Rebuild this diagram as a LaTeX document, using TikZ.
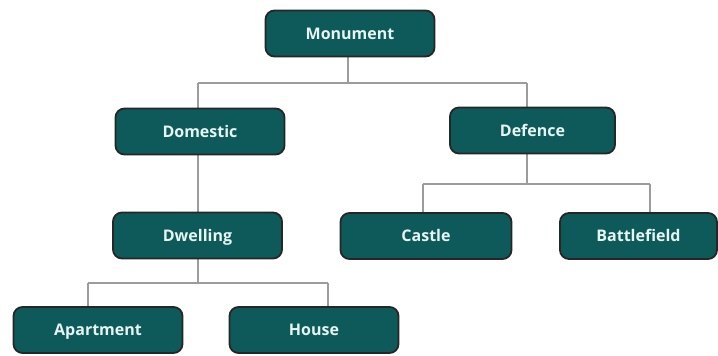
\documentclass[tikz,border=0pt]{standalone}
\usepackage{fontspec}
\setmainfont{Open Sans}
\begin{document}
\begin{tikzpicture}[x=1pt,y=-1pt,
  box/.style={draw=black!85, line width=1.8pt, fill=boxfill, rounded corners=9pt,
    minimum width=169pt, minimum height=46pt, inner sep=0pt,
    text height=11.5pt, text depth=0pt,
    text=boxtext, font=\bfseries\fontsize{16}{18}\selectfont},
  link/.style={draw=linegray, line width=1.3pt}]
\definecolor{boxfill}{HTML}{0E5A5A}
\definecolor{boxtext}{HTML}{E6F4F2}
\definecolor{linegray}{HTML}{9C9C9C}
\useasboundingbox (0,0) rectangle (718,356);
\fill[white] (0,0) rectangle (718,356);

% bus lines and drop points
\coordinate (j0) at (348,83);
\coordinate (bL) at (198,83);
\coordinate (bR) at (527,83);
\coordinate (dL) at (423,184);
\coordinate (dR) at (650,184);
\coordinate (hL) at (88,283);
\coordinate (hR) at (328,283);

% connectors (drawn first so boxes cover them)
\draw[link] (bL) -- (bR);
\draw[link] (j0) -- (348,50);
\draw[link] (bL) -- (bL |- 0,120);
\draw[link] (bR) -- (bR |- 0,120);
\draw[link] (bL |- 0,140) -- (bL |- 0,225);
\draw[link] (bL |- 0,245) -- (bL |- hL);
\draw[link] (hL) -- (hR);
\draw[link] (hL) -- (hL |- 0,320);
\draw[link] (hR) -- (hR |- 0,320);
\draw[link] (bR |- 0,140) -- (bR |- dL);
\draw[link] (dL) -- (dR);
\draw[link] (dL) -- (dL |- 0,225);
\draw[link] (dR) -- (dR |- 0,225);

% boxes
\node[box] (mon) at (350,33.5) {Monument};
\node[box] (dom) at (200,131.5) {Domestic};
\node[box, minimum width=165pt] (def) at (532.5,130.5) {Defence};
\node[box] (dwe) at (197.5,235.5) {Dwelling};
\node[box, minimum width=171pt] (cas) at (426,236) {Castle};
\node[box, minimum width=157pt] (bat) at (638.5,236) {Battlefield};
\node[box] (apt) at (98,330) {Apartment};
\node[box] (hou) at (314,330) {House};
\end{tikzpicture}
\end{document}
